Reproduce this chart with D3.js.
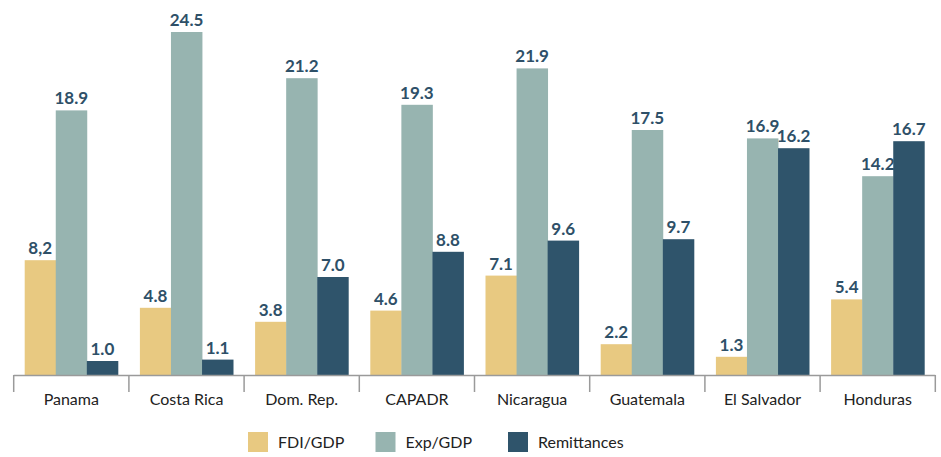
<!DOCTYPE html>
<html>
<head>
<meta charset="utf-8">
<script src="https://cdn.jsdelivr.net/npm/d3@7"></script>
<style>
  html, body { margin: 0; padding: 0; background: #fff; }
  svg { display: block; }
</style>
</head>
<body>
<div id="chart"></div>
<script>
// Categories and series (percent of GDP)
const categories = ["Panama", "Costa Rica", "Dom. Rep.", "CAPADR", "Nicaragua", "Guatemala", "El Salvador", "Honduras"];
const seriesNames = ["FDI/GDP", "Exp/GDP", "Remittances"];
const fdiGdp      = [8.2, 4.8, 3.8, 4.6, 7.1, 2.2, 1.3, 5.4];
const expGdp      = [18.9, 24.5, 21.2, 19.3, 21.9, 17.5, 16.9, 14.2];
const remittances = [1.0, 1.1, 7.0, 8.8, 9.6, 9.7, 16.2, 16.7];
// Labels printed with a decimal comma: [category, series]
const commaLabels = [["Panama", "FDI/GDP"]];

const seriesValues = [fdiGdp, expGdp, remittances];
const colors = ["#e8c981", "#97b4b0", "#2f546b"];
const fontFamily = "Lato, 'Open Sans', sans-serif";

const width = 941, height = 457;
const svg = d3.select("#chart").append("svg")
  .attr("width", width).attr("height", height);

const baseY = 375;
const x0 = d3.scaleBand().domain(categories).range([13.7, 935.3]).paddingInner(0).paddingOuter(0);
const x1 = d3.scaleBand().domain(seriesNames).range([11, x0.bandwidth() - 11]).padding(0);
const y = d3.scaleLinear().domain([0, 24.5]).range([baseY, 32]);
const color = d3.scaleOrdinal().domain(seriesNames).range(colors);

const rows = categories.map((c, i) => ({
  category: c,
  values: seriesNames.map((s, k) => ({ series: s, category: c, value: seriesValues[k][i] }))
}));

const fmt = d => {
  const s = d.value.toFixed(1);
  return commaLabels.some(([c, n]) => c === d.category && n === d.series) ? s.replace(".", ",") : s;
};

const groups = svg.selectAll("g.group").data(rows).join("g")
  .attr("class", "group")
  .attr("transform", d => `translate(${x0(d.category)},0)`);

groups.selectAll("rect").data(d => d.values).join("rect")
  .attr("x", d => x1(d.series))
  .attr("y", d => y(d.value))
  .attr("width", x1.bandwidth() + 0.4)
  .attr("height", d => baseY - y(d.value))
  .attr("fill", d => color(d.series));

groups.selectAll("text.val").data(d => d.values).join("text")
  .attr("class", "val")
  .attr("x", d => x1(d.series) + x1.bandwidth() / 2)
  .attr("y", d => y(d.value) - 6)
  .attr("text-anchor", "middle")
  .attr("font-family", fontFamily)
  .attr("font-weight", 700)
  .attr("font-size", 17)
  .attr("fill", "#2e5068")
  .text(fmt);

// Category axis: baseline plus boundary ticks between groups
const axisG = svg.append("g").attr("transform", `translate(0,${baseY})`);
axisG.append("line")
  .attr("x1", x0.range()[0]).attr("x2", x0.range()[1])
  .attr("y1", 0.5).attr("y2", 0.5)
  .attr("stroke", "#9a9a9a").attr("stroke-width", 1.5);
const boundaries = categories.map(c => x0(c)).concat([x0.range()[1]]);
axisG.selectAll("line.tick").data(boundaries).join("line")
  .attr("class", "tick")
  .attr("x1", d => d).attr("x2", d => d)
  .attr("y1", 0).attr("y2", 17)
  .attr("stroke", "#9a9a9a").attr("stroke-width", 1.5);
axisG.selectAll("text.cat").data(categories).join("text")
  .attr("class", "cat")
  .attr("x", d => x0(d) + x0.bandwidth() / 2)
  .attr("y", 30)
  .attr("text-anchor", "middle")
  .attr("font-family", fontFamily)
  .attr("font-size", 16)
  .attr("fill", "#222")
  .text(d => d);

// Legend
const legendX = [248, 375.5, 508];
const legend = svg.selectAll("g.legend").data(seriesNames).join("g")
  .attr("class", "legend")
  .attr("transform", (d, i) => `translate(${legendX[i]},432)`);
legend.append("rect")
  .attr("width", 20).attr("height", 20)
  .attr("fill", d => color(d));
legend.append("text")
  .attr("x", 30).attr("y", 16)
  .attr("font-family", fontFamily)
  .attr("font-size", 16)
  .attr("fill", "#222")
  .text(d => d);
</script>
</body>
</html>
